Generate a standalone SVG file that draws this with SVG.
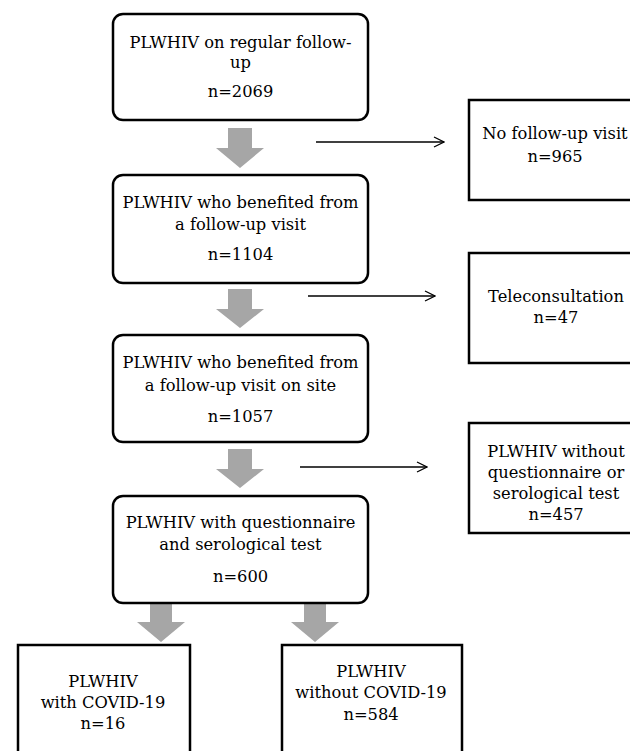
<svg xmlns="http://www.w3.org/2000/svg" width="630" height="751" viewBox="0 0 630 751">
<defs>
<style>
.box{fill:#fff;stroke:#000;stroke-width:2.5}
.t{font-family:"DejaVu Serif","Liberation Serif",serif;font-size:16.3px;fill:#000;text-anchor:middle}
.g{fill:#a6a6a6}
.ln{stroke:#000;stroke-width:1.3;fill:none}
</style>
<marker id="open" viewBox="0 0 12 12" refX="11" refY="6" markerWidth="12" markerHeight="12" markerUnits="userSpaceOnUse" orient="auto">
<path d="M1,1 L11,6 L1,11" fill="none" stroke="#000" stroke-width="1.3"/>
</marker>
</defs>
<rect width="630" height="751" fill="#fff"/>
<g id="connectors">
<path class="g" d="M228,128 H252 V148 H264 L240,168 L216,148 H228 Z"/>
<path class="g" d="M228,289 H252 V309 H264 L240,328 L216,309 H228 Z"/>
<path class="g" d="M228,449 H252 V469 H264 L240,488 L216,469 H228 Z"/>
<path class="g" d="M150,603 H172 V622 H185 L161,642 L137,622 H150 Z"/>
<path class="g" d="M304,603 H326 V622 H339 L315,642 L291,622 H304 Z"/>
<line class="ln" x1="316" y1="142" x2="444" y2="142" marker-end="url(#open)"/>
<line class="ln" x1="308" y1="296" x2="435" y2="296" marker-end="url(#open)"/>
<line class="ln" x1="300" y1="467" x2="427" y2="467" marker-end="url(#open)"/>
</g>
<g id="n1">
<rect class="box" x="113" y="14" width="255" height="106" rx="10"/>
<text class="t" x="240.5" y="48">PLWHIV on regular follow-</text>
<text class="t" x="240.5" y="68">up</text>
<text class="t" x="240.5" y="97">n=2069</text>
</g>
<g id="n2">
<rect class="box" x="113" y="175" width="255" height="108" rx="10"/>
<text class="t" x="240.5" y="208">PLWHIV who benefited from</text>
<text class="t" x="240.5" y="230">a follow-up visit</text>
<text class="t" x="240.5" y="260">n=1104</text>
</g>
<g id="n3">
<rect class="box" x="113" y="335" width="255" height="107" rx="10"/>
<text class="t" x="240.5" y="368">PLWHIV who benefited from</text>
<text class="t" x="240.5" y="391">a follow-up visit on site</text>
<text class="t" x="240.5" y="422">n=1057</text>
</g>
<g id="n4">
<rect class="box" x="113" y="496" width="255" height="107" rx="10"/>
<text class="t" x="240.5" y="528">PLWHIV with questionnaire</text>
<text class="t" x="240.5" y="550">and serological test</text>
<text class="t" x="240.5" y="582">n=600</text>
</g>
<g id="s1">
<rect class="box" x="469" y="100" width="175" height="100"/>
<text class="t" x="555" y="139">No follow-up visit</text>
<text class="t" x="555" y="162">n=965</text>
</g>
<g id="s2">
<rect class="box" x="469" y="253" width="175" height="110"/>
<text class="t" x="556" y="302">Teleconsultation</text>
<text class="t" x="556" y="323">n=47</text>
</g>
<g id="s3">
<rect class="box" x="469" y="423" width="175" height="110"/>
<text class="t" x="556" y="457">PLWHIV without</text>
<text class="t" x="556" y="478">questionnaire or</text>
<text class="t" x="556" y="499">serological test</text>
<text class="t" x="556" y="520">n=457</text>
</g>
<g id="b1">
<rect class="box" x="18" y="645" width="172" height="115"/>
<text class="t" x="103" y="687">PLWHIV</text>
<text class="t" x="103" y="708">with COVID-19</text>
<text class="t" x="103" y="729">n=16</text>
</g>
<g id="b2">
<rect class="box" x="282" y="645" width="180" height="115"/>
<text class="t" x="371" y="677">PLWHIV</text>
<text class="t" x="371" y="698">without COVID-19</text>
<text class="t" x="371" y="720">n=584</text>
</g>
</svg>
